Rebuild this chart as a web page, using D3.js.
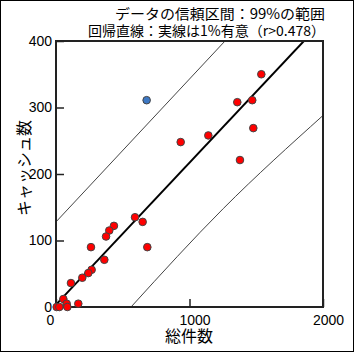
<!DOCTYPE html>
<html><head><meta charset="utf-8">
<script src="https://cdn.jsdelivr.net/npm/d3@7"></script>
<style>body{margin:0;background:#fff}svg{display:block}</style>
</head><body><svg id="c" width="354" height="352"></svg>
<script>
// ---- data ----
const totalCount = [1538,1358,1470,1478,1141,934,1378,684,649,592,434,399,375,362,262,267,242,197,112,55,80,85,167,5,25];
const cashCount  = [350,308,311,269,258,248,221,90,128,135,122,115,106,71,90,56,51,44,36,12,5,0,5,0,0];
const outlierX = [679];
const outlierY = [311];
const fitLine   = [[0,3.5],[2000,430.5]];
const upperBand = [[0,128],[1266,400]];
const lowerBand = [[562,0],[1253,148],[2000,288]];
const xTicks = [0,1000,2000];
const yTicks = [0,100,200,300,400];
const titleLines = ["データの信頼区間：99%の範囲","回帰直線：実線は1%有意（r>0.478）"];
const titleWidths = [210,237];
const xTitle = "総件数";
const yTitle = "キャッシュ数";

const svg = d3.select("#c");
const L=56,R=323,T=41,B=307;
const x = d3.scaleLinear().domain([0,2000]).range([L,R]);
const y = d3.scaleLinear().domain([0,400]).range([B,T]);
const jp = "'Noto Sans CJK JP','Noto Sans',sans-serif";
const num = "'Liberation Sans',Arial,sans-serif";

svg.append("rect").attr("x",0.5).attr("y",0.5).attr("width",353).attr("height",351)
  .attr("fill","#fff").attr("stroke","#000");

svg.append("clipPath").attr("id","pc").append("rect")
  .attr("x",L).attr("y",T).attr("width",R-L).attr("height",B-T);

const line = d3.line().x(d=>x(d[0])).y(d=>y(d[1]));
const g = svg.append("g").attr("clip-path","url(#pc)");
g.append("path").attr("d",line(upperBand)).attr("fill","none").attr("stroke","#444").attr("stroke-width",1);
g.append("path").attr("d",d3.line().x(d=>x(d[0])).y(d=>y(d[1])).curve(d3.curveMonotoneX)(lowerBand)).attr("fill","none").attr("stroke","#444").attr("stroke-width",1);
g.append("path").attr("d",line(fitLine)).attr("fill","none").attr("stroke","#000").attr("stroke-width",2);

// frame
svg.append("rect").attr("x",L).attr("y",T).attr("width",R-L).attr("height",B-T)
  .attr("fill","none").attr("stroke","#222").attr("stroke-width",2);

// axes
const ax = svg.append("g").attr("transform",`translate(0,${B})`)
  .call(d3.axisBottom(x).tickValues(xTicks).tickFormat(d3.format("d")).tickSizeInner(-8).tickSizeOuter(0).tickPadding(8));
ax.select(".domain").remove();
ax.selectAll(".tick text").attr("dx",d=>d===0?-6:5);
const ay = svg.append("g").attr("transform",`translate(${L},0)`)
  .call(d3.axisLeft(y).tickValues(yTicks).tickFormat(d3.format("d")).tickSizeInner(-8).tickSizeOuter(0).tickPadding(4));
ay.select(".domain").remove();
svg.selectAll(".tick line").attr("stroke","#222").attr("stroke-width",1.5);
svg.selectAll(".tick text").attr("font-family",num).attr("font-size",14).attr("fill","#000");

// points
const pts = svg.append("g");
pts.selectAll("circle.r").data(totalCount.map((v,i)=>[v,cashCount[i]])).join("circle")
  .attr("class","r").attr("cx",d=>x(d[0])).attr("cy",d=>y(d[1])).attr("r",3.8)
  .attr("fill","#ff0000").attr("stroke","#444").attr("stroke-width",1);
pts.selectAll("circle.b").data(outlierX.map((v,i)=>[v,outlierY[i]])).join("circle")
  .attr("class","b").attr("cx",d=>x(d[0])).attr("cy",d=>y(d[1])).attr("r",3.8)
  .attr("fill","#3d78c4").attr("stroke","#444").attr("stroke-width",1);

// titles
svg.selectAll("text.t").data(titleLines).join("text").attr("class","t")
  .attr("x",325).attr("y",(d,i)=>19+i*17).attr("text-anchor","end")
  .attr("textLength",(d,i)=>titleWidths[i]).attr("lengthAdjust","spacingAndGlyphs")
  .attr("font-family",jp).attr("font-size",14).attr("fill","#000").text(d=>d);
svg.append("text").attr("x",189).attr("y",342).attr("text-anchor","middle")
  .attr("font-family",jp).attr("font-size",16).attr("fill","#000").text(xTitle);
svg.append("text").attr("transform","translate(30,168) rotate(-90)").attr("text-anchor","middle")
  .attr("font-family",jp).attr("font-size",16).attr("fill","#000").text(yTitle);
</script></body></html>
